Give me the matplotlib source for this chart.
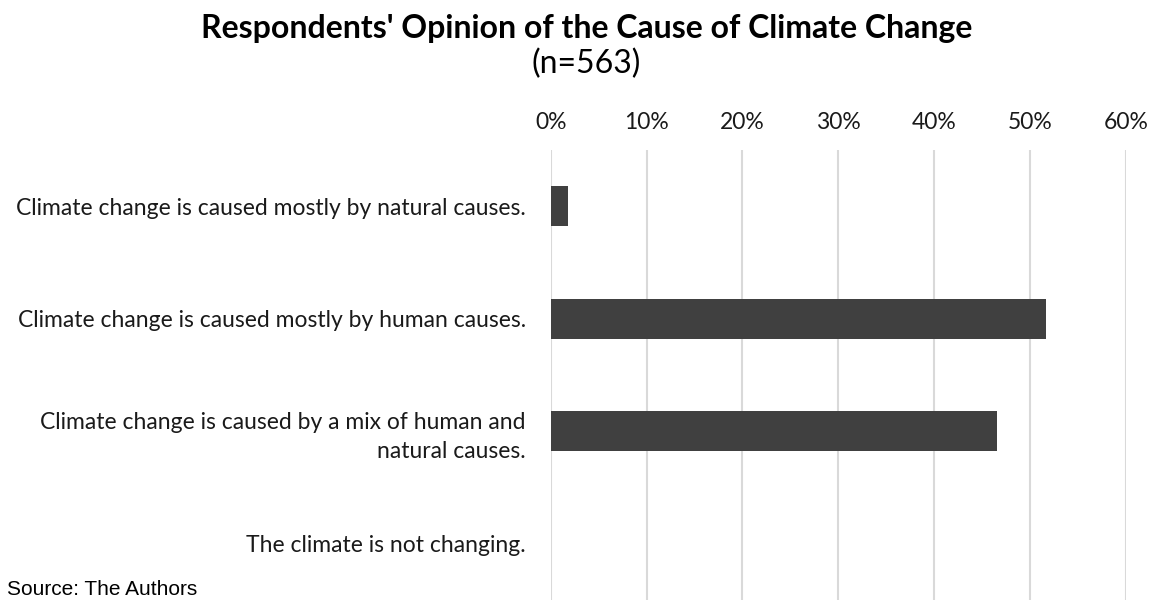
import matplotlib
matplotlib.use("Agg")
import matplotlib.pyplot as plt

# data (share of respondents, %)
categories = ['Climate change is caused mostly by natural causes.',
              'Climate change is caused mostly by human causes.',
              'Climate change is caused by a mix of human and\nnatural causes.',
              'The climate is not changing.']
values = [1.8, 51.7, 46.5, 0.0]
ticks = [0, 10, 20, 30, 40, 50, 60]

plt.rcParams['font.family'] = ['Lato', 'DejaVu Sans']

fig = plt.figure(figsize=(11.54, 6), dpi=100)
ax = fig.add_axes([0.4772, 0.0, 0.9757 - 0.4772, 0.75])

ypos = list(range(len(categories)))
ax.barh(ypos, values, height=0.355, color='#404040', linewidth=0, zorder=3)
ax.set_ylim(len(categories) - 0.5, -0.5)
ax.set_xlim(0, 60)

ax.xaxis.tick_top()
ax.set_xticks(ticks)
ax.set_xticklabels([f'{t}%' for t in ticks], fontsize=16.5, color='#1a1a1a')
ax.set_yticks(ypos)
ax.set_yticklabels(categories, fontsize=16.5, color='#1a1a1a', ha='right',
                   multialignment='right', linespacing=1.45)
ax.tick_params(axis='both', length=0)
ax.tick_params(axis='x', pad=12)
ax.tick_params(axis='y', pad=18)
ax.grid(axis='x', color='#d9d9d9', linewidth=1.5, zorder=0)
for s in ax.spines.values():
    s.set_visible(False)

fig.text(0.508, 0.953, "Respondents' Opinion of the Cause of Climate Change",
         ha='center', va='center', fontsize=23, fontweight='bold', color='black')
fig.text(0.508, 0.893, "(n=563)", ha='center', va='center', fontsize=23, color='black')
fig.text(0.006, 0.017, "Source: The Authors", ha='left', va='center',
         fontsize=15, family=['Liberation Sans', 'DejaVu Sans'], color='black')

fig.savefig('out.png', dpi=100)
